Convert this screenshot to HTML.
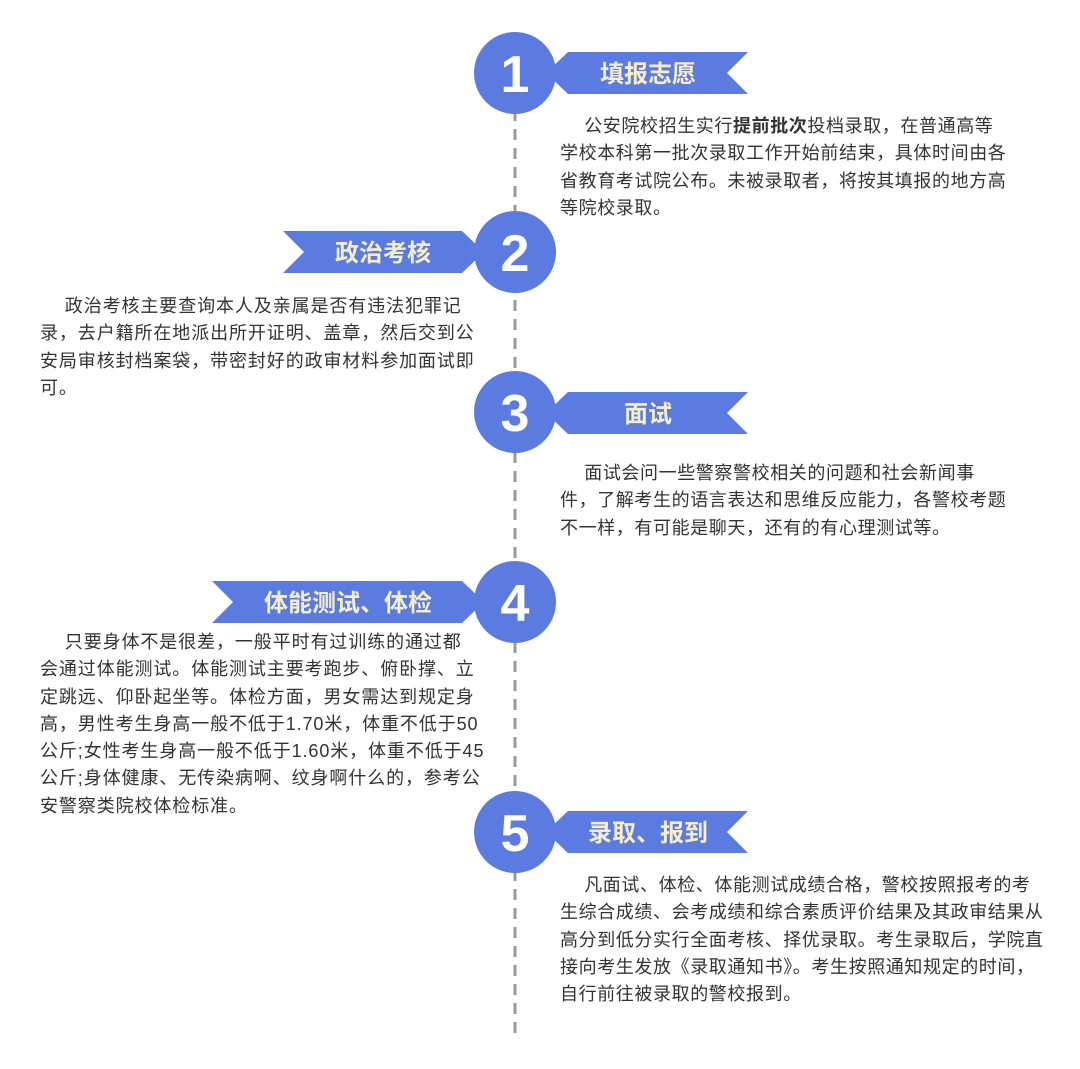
<!DOCTYPE html>
<html><head><meta charset="utf-8"><style>
body{margin:0;background:#fff;width:1080px;height:1069px;position:relative;overflow:hidden;font-family:"Liberation Sans","Noto Sans CJK SC",sans-serif;}
.t{position:absolute;font-size:18px;line-height:27.3px;color:#333;white-space:nowrap;letter-spacing:0.6px}
.l{letter-spacing:0.9px}
svg{position:absolute;left:0;top:0}
</style></head><body>
<svg width="1080" height="1069">
<line x1="515" y1="110" x2="515" y2="1035" stroke="#999" stroke-width="3" stroke-dasharray="11,8"/>
<g fill="#5b7be0">
<polygon points="546,73 568,52 748,52 727,73 748,94 568,94"/>
<polygon points="484,252 462,231 283,231 304,252 283,273 462,273"/>
<polygon points="546,413 568,392 748,392 727,413 748,434 568,434"/>
<polygon points="484,602 462,581 212,581 233,602 212,623 462,623"/>
<polygon points="546,832 568,811 748,811 727,832 748,853 568,853"/>
<circle cx="515" cy="73" r="41"/>
<circle cx="515" cy="252" r="41"/>
<circle cx="515" cy="412" r="41"/>
<circle cx="515" cy="602" r="41"/>
<circle cx="515" cy="832" r="41"/>
</g>
<g fill="#fff" font-family="Liberation Sans" font-weight="bold" font-size="52" text-anchor="middle">
<text x="515" y="92">1</text><text x="515" y="271">2</text><text x="515" y="431">3</text><text x="515" y="621">4</text><text x="515" y="851">5</text>
</g>
<g fill="#f5eec8" font-family="Noto Sans CJK SC,sans-serif" font-weight="bold" font-size="24" text-anchor="middle">
<text x="648" y="82">填报志愿</text>
<text x="383" y="261">政治考核</text>
<text x="648" y="422">面试</text>
<text x="348" y="611">体能测试、体检</text>
<text x="648" y="841">录取、报到</text>
</g>
</svg>
<div class="t" style="left:560px;top:113px">　 公安院校招生实行<b>提前批次</b>投档录取，在普通高等<br>学校本科第一批次录取工作开始前结束，具体时间由各<br>省教育考试院公布。未被录取者，将按其填报的地方高<br>等院校录取。</div>
<div class="t l" style="left:40px;top:293px">　 政治考核主要查询本人及亲属是否有违法犯罪记<br>录，去户籍所在地派出所开证明、盖章，然后交到公<br>安局审核封档案袋，带密封好的政审材料参加面试即<br>可。</div>
<div class="t" style="left:560px;top:460px">　 面试会问一些警察警校相关的问题和社会新闻事<br>件，了解考生的语言表达和思维反应能力，各警校考题<br>不一样，有可能是聊天，还有的有心理测试等。</div>
<div class="t l" style="left:40px;top:629px">　 只要身体不是很差，一般平时有过训练的通过都<br>会通过体能测试。体能测试主要考跑步、俯卧撑、立<br>定跳远、仰卧起坐等。体检方面，男女需达到规定身<br>高，男性考生身高一般不低于1.70米，体重不低于50<br>公斤;女性考生身高一般不低于1.60米，体重不低于45<br>公斤;身体健康、无传染病啊、纹身啊什么的，参考公<br>安警察类院校体检标准。</div>
<div class="t" style="left:560px;top:872px">　 凡面试、体检、体能测试成绩合格，警校按照报考的考<br>生综合成绩、会考成绩和综合素质评价结果及其政审结果从<br>高分到低分实行全面考核、择优录取。考生录取后，学院直<br>接向考生发放《录取通知书》。考生按照通知规定的时间，<br>自行前往被录取的警校报到。</div>
</body></html>
